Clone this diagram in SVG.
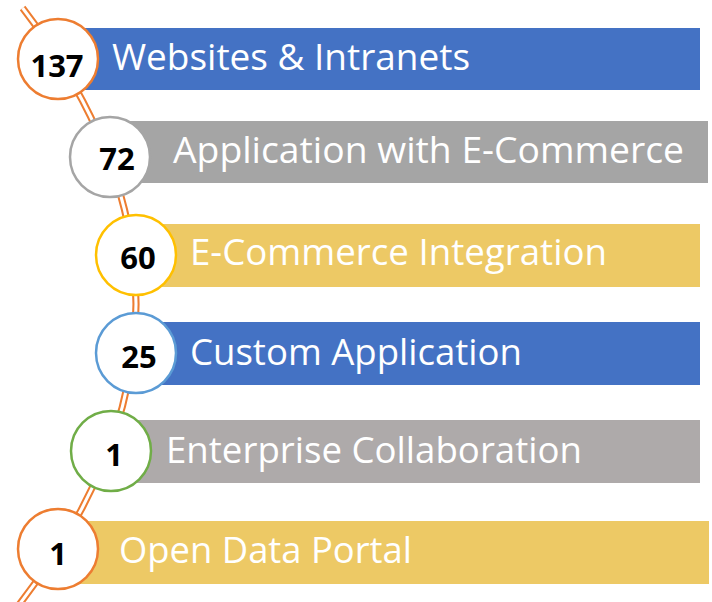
<svg xmlns="http://www.w3.org/2000/svg" width="712" height="602" viewBox="0 0 712 602">
<style>
.lbl{font-family:"Open Sans","Noto Sans","Liberation Sans",sans-serif;font-size:37px;fill:#ffffff}
.num{font-family:"Open Sans","Noto Sans","Liberation Sans",sans-serif;font-size:31px;font-weight:bold;fill:#000000;text-anchor:middle}
.circ{fill:#ffffff;stroke-width:2.5}
.wire{fill:none}
</style>
<rect width="712" height="602" fill="#ffffff"/>
<g id="bars">
<rect x="80" y="28" width="620" height="62" fill="#4472C4"/>
<rect x="130" y="121" width="578" height="62" fill="#A5A5A5"/>
<rect x="150" y="224" width="550" height="63" fill="#EDC965"/>
<rect x="150" y="322" width="550" height="63" fill="#4472C4"/>
<rect x="130" y="420" width="570" height="63" fill="#AEAAAA"/>
<rect x="80" y="521" width="629" height="63" fill="#EDC965"/>
</g>
<g id="connectors">
<path class="wire" d="M22.6,8 Q251.7,307 18,606" stroke="#ED7D31" stroke-width="7"/>
<path class="wire" d="M22.6,8 Q251.7,307 18,606" stroke="#ffffff" stroke-width="3"/>
</g>
<g id="node1">
<circle class="circ" cx="58" cy="59" r="40" stroke="#ED7D31"/>
<text class="num" x="57" y="77">137</text>
<text class="lbl" x="112" y="70" textLength="358" lengthAdjust="spacingAndGlyphs">Websites &amp; Intranets</text>
</g>
<g id="node2">
<circle class="circ" cx="110" cy="157" r="40" stroke="#A5A5A5"/>
<text class="num" x="117" y="170">72</text>
<text class="lbl" x="173" y="163" textLength="511" lengthAdjust="spacingAndGlyphs">Application with E-Commerce</text>
</g>
<g id="node3">
<circle class="circ" cx="136" cy="255" r="40" stroke="#FFC000"/>
<text class="num" x="138" y="269">60</text>
<text class="lbl" x="190" y="265" textLength="417" lengthAdjust="spacingAndGlyphs">E-Commerce Integration</text>
</g>
<g id="node4">
<circle class="circ" cx="136" cy="353" r="40" stroke="#5B9BD5"/>
<text class="num" x="139" y="368">25</text>
<text class="lbl" x="190" y="365" textLength="332" lengthAdjust="spacingAndGlyphs">Custom Application</text>
</g>
<g id="node5">
<circle class="circ" cx="111" cy="451" r="40" stroke="#70AD47"/>
<text class="num" x="114" y="466">1</text>
<text class="lbl" x="166" y="463" textLength="416" lengthAdjust="spacingAndGlyphs">Enterprise Collaboration</text>
</g>
<g id="node6">
<circle class="circ" cx="58" cy="549" r="40" stroke="#ED7D31"/>
<text class="num" x="58" y="565">1</text>
<text class="lbl" x="119" y="563" textLength="293" lengthAdjust="spacingAndGlyphs">Open Data Portal</text>
</g>
</svg>
